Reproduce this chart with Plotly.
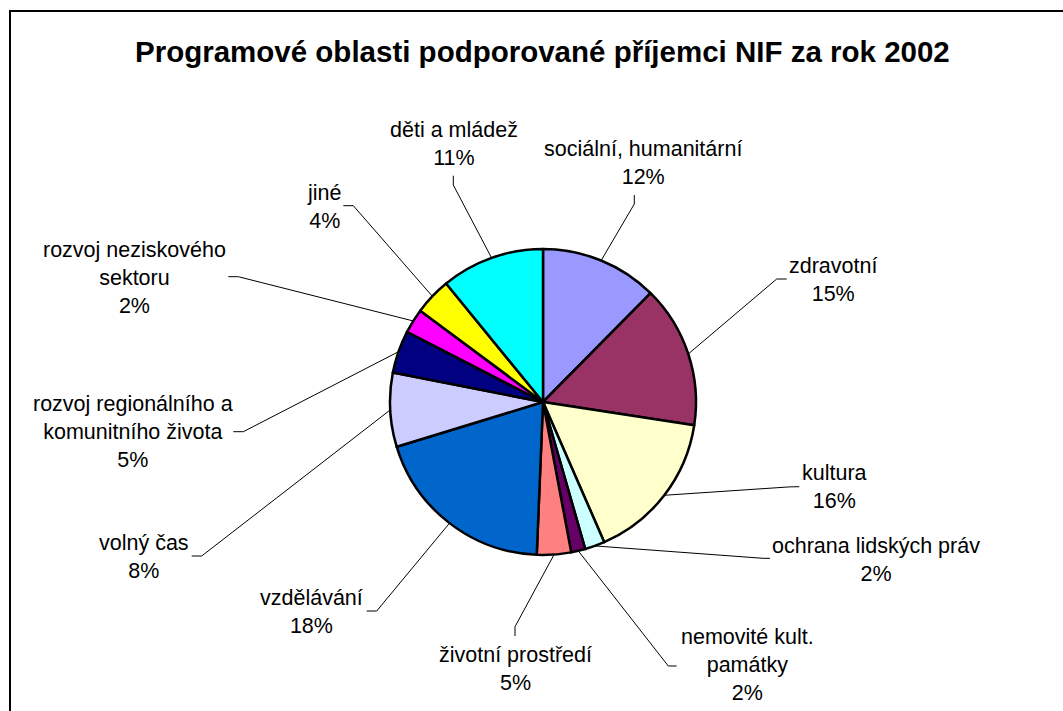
import math
import plotly.graph_objects as go

# ---- data ----
categories = ["sociální, humanitární", "zdravotní", "kultura", "ochrana lidských práv",
              "nemovité kult. památky", "životní prostředí", "vzdělávání", "volný čas",
              "rozvoj regionálního a komunitního života", "rozvoj neziskového sektoru",
              "jiné", "děti a mládež"]
values = [12.4, 15.0, 16.0, 2.1, 1.5, 3.6, 19.6, 7.8, 4.5, 2.6, 3.9, 10.9]
pct_labels = ["12%", "15%", "16%", "2%", "2%", "5%", "18%", "8%", "5%", "2%", "4%", "11%"]
label_texts = ["sociální, humanitární", "zdravotní", "kultura", "ochrana lidských práv",
               "nemovité kult.<br>památky", "životní prostředí", "vzdělávání", "volný čas",
               "rozvoj regionálního a<br>komunitního života", "rozvoj neziskového<br>sektoru",
               "jiné", "děti a mládež"]
colors = ["#9999FF", "#993366", "#FFFFCC", "#CCFFFF", "#660066", "#FF8080",
          "#0066CC", "#CCCCFF", "#000080", "#FF00FF", "#FFFF00", "#00FFFF"]
title = "Programové oblasti podporované příjemci NIF za rok 2002"

# ---- layout (page pixels) ----
W, H, OFF = 1063, 711, 0
PIE_CX, PIE_CY, PIE_R = 543, 402, 153
# label block centre, stub start (at label), stub end (elbow)
label_pos = [(643, 162.8), (833, 279.7), (834, 487), (876, 559.7), (747, 665),
             (515, 669.2), (311.7, 612), (143.8, 557), (132.8, 432.4), (134.5, 278),
             (324, 206.7), (453.8, 143.8)]
stubs = [((634.3, 195), (634.3, 204)), ((786.7, 279), (776.7, 279)),
         ((799.3, 486.7), (789.3, 486.9)), ((770, 558.3), (763, 558.3)),
         ((676.7, 666), (668.3, 666)), ((515, 636), (515, 626.7)),
         ((366.7, 611), (376.7, 611)), ((191.7, 556), (201.7, 556)),
         ((233.3, 431.7), (243.3, 431.7)), ((228.3, 276.7), (238.3, 276.7)),
         ((343.3, 205.7), (353.3, 205.7)), ((453.3, 175.7), (453.3, 185))]
FONT = "Arial, 'Liberation Sans', sans-serif"


def px(x):
    return (x - OFF) / W


def py(y):
    return 1 - (y - OFF) / H


fig = go.Figure(go.Pie(
    labels=categories, values=values, sort=False, direction="clockwise", rotation=0,
    marker=dict(colors=colors, line=dict(color="black", width=2.5)),
    textinfo="none", hoverinfo="label+percent", showlegend=False,
    domain=dict(x=[px(PIE_CX - PIE_R), px(PIE_CX + PIE_R)],
                y=[py(PIE_CY + PIE_R), py(PIE_CY - PIE_R)]),
))

shapes = [dict(type="rect", xref="paper", yref="paper", x0=px(10), y0=-0.2, x1=1.2, y1=py(11),
               line=dict(color="black", width=2), fillcolor="rgba(0,0,0,0)")]
annotations = [dict(text="<b>" + title + "</b>", x=px(542.5), y=py(52), xref="paper", yref="paper",
                    xanchor="center", yanchor="middle", showarrow=False,
                    font=dict(family=FONT, size=29.5, color="black"))]

total = sum(values)
cum = 0.0
for i, v in enumerate(values):
    mid = 2 * math.pi * (cum + v / 2) / total
    cum += v
    ex = PIE_CX + PIE_R * math.sin(mid)
    ey = PIE_CY - PIE_R * math.cos(mid)
    (s0x, s0y), (s1x, s1y) = stubs[i]
    shapes.append(dict(type="path", xref="paper", yref="paper",
                       path=f"M {px(s0x)} {py(s0y)} L {px(s1x)} {py(s1y)} L {px(ex)} {py(ey)}",
                       line=dict(color="black", width=1)))
    lx, ly = label_pos[i]
    annotations.append(dict(text=label_texts[i] + "<br>" + pct_labels[i], x=px(lx), y=py(ly),
                            xref="paper", yref="paper", xanchor="center", yanchor="middle",
                            showarrow=False, align="center",
                            font=dict(family=FONT, size=21.5, color="black")))

fig.update_layout(width=W, height=H, margin=dict(l=0, r=0, t=0, b=0),
                  paper_bgcolor="white", plot_bgcolor="white",
                  shapes=shapes, annotations=annotations)

fig.write_html("out.html", config={"displayModeBar": False},
               post_script="document.body.style.margin='0';document.body.style.overflow='hidden';")
